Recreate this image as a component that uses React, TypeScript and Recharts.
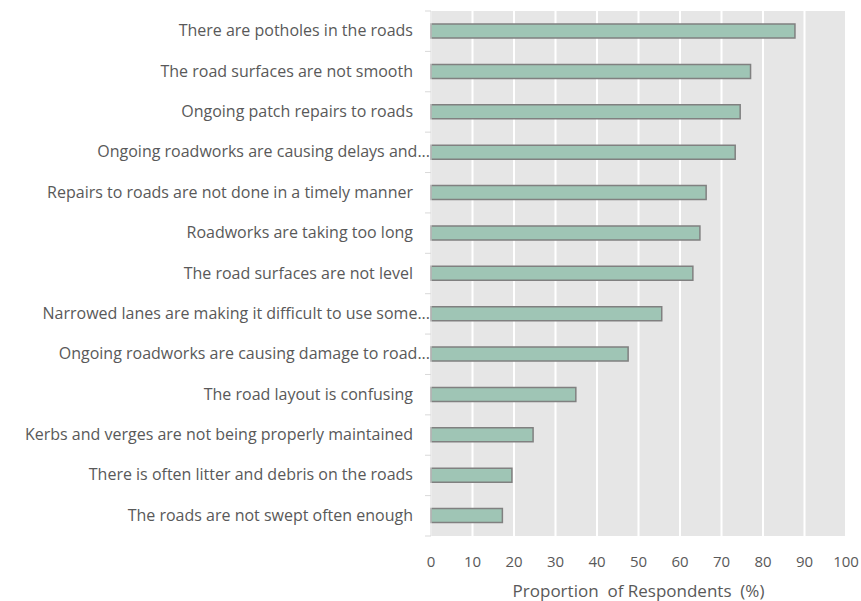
import { BarChart, Bar, XAxis, YAxis, CartesianGrid } from 'recharts';

const issues = [
  'There are potholes in the roads',
  'The road surfaces are not smooth',
  'Ongoing patch repairs to roads',
  'Ongoing roadworks are causing delays and...',
  'Repairs to roads are not done in a timely manner',
  'Roadworks are taking too long',
  'The road surfaces are not level',
  'Narrowed lanes are making it difficult to use some...',
  'Ongoing roadworks are causing damage to road...',
  'The road layout is confusing',
  'Kerbs and verges are not being properly maintained',
  'There is often litter and debris on the roads',
  'The roads are not swept often enough',
];

const proportions = [87.7, 77.0, 74.5, 73.3, 66.3, 64.8, 63.1, 55.6, 47.5, 34.9, 24.6, 19.5, 17.2];

const xTicks = [0, 10, 20, 30, 40, 50, 60, 70, 80, 90, 100];

const data = issues.map((issue, i) => ({ issue, value: proportions[i] }));

const FONT = '"Open Sans", Lato, sans-serif';
const TEXT = '#595959';

function IssueTick(props: any) {
  const { x, y, payload, index } = props;
  const half = payload.offset ?? 20;
  const label: string = payload.value;
  const cut = label.endsWith('...');
  // x sits 8px left of the axis line (tick size + margin)
  return (
    <g>
      <line x1={x + 2} x2={x + 8} y1={y - half} y2={y - half} stroke="#d9d9d9" />
      {index === issues.length - 1 && (
        <line x1={x + 2} x2={x + 8} y1={y + half} y2={y + half} stroke="#d9d9d9" />
      )}
      <text
        x={cut ? x + 7 : x - 10}
        y={y}
        dy={5}
        textAnchor="end"
        fill={TEXT}
        fontSize={16}
        fontFamily={FONT}
      >
        {label}
      </text>
    </g>
  );
}

export default function App() {
  return (
    <div style={{ position: 'absolute', left: 0, top: 0, background: '#fff' }}>
      <BarChart
        width={861}
        height={601}
        data={data}
        layout="vertical"
        margin={{ top: 11, right: 15, bottom: 0, left: 0 }}
        barCategoryGap={0}
      >
        <CartesianGrid
          horizontal={false}
          fill="#e6e6e6"
          stroke="#ffffff"
          strokeWidth={2}
        />
        <XAxis
          type="number"
          domain={[0, 100]}
          ticks={xTicks}
          axisLine={false}
          tickLine={false}
          height={65}
          tickMargin={14}
          tick={{ fill: TEXT, fontSize: 15, fontFamily: FONT }}
          label={{
            value: 'Proportion\u00a0 of Respondents\u00a0 (%)',
            position: 'insideBottom',
            offset: 4,
            fill: TEXT,
            fontSize: 17,
            fontFamily: FONT,
          }}
        />
        <YAxis
          type="category"
          dataKey="issue"
          width={431}
          axisLine={{ stroke: '#d9d9d9' }}
          tickLine={false}
          interval={0}
          tick={<IssueTick />}
        />
        <Bar
          dataKey="value"
          barSize={14}
          fill="#9fc5b5"
          stroke="#808080"
          strokeWidth={1.5}
          isAnimationActive={false}
        />
      </BarChart>
    </div>
  );
}
